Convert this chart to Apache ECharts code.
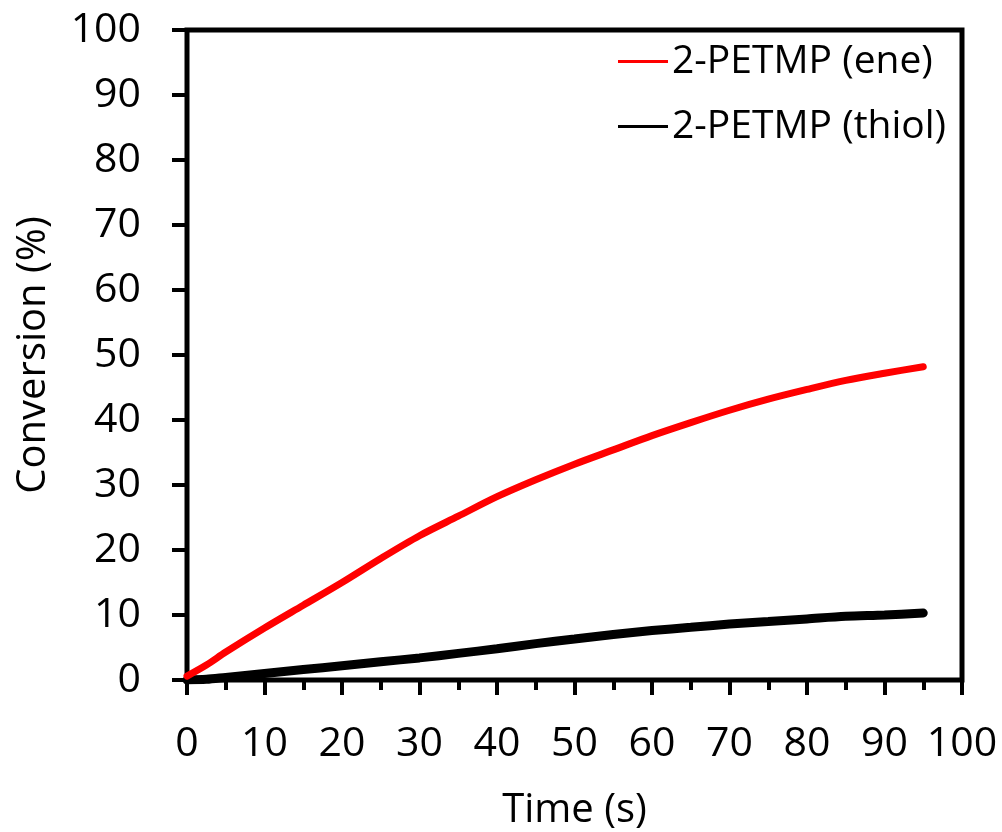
<!DOCTYPE html>
<html>
<head>
<meta charset="utf-8">
<script src="https://cdn.jsdelivr.net/npm/echarts@6/dist/echarts.min.js"></script>
<style>
  html, body { margin: 0; padding: 0; background: #fff; }
  #chart { width: 1002px; height: 832px; }
</style>
</head>
<body>
<div id="chart"></div>
<script>
// Time points (s)
const timeS = [0, 2.5, 5, 10, 15, 20, 25, 30, 35, 40, 45, 50, 55, 60, 65, 70, 75, 80, 85, 90, 95];
// Conversion (%) of the ene groups
const eneConv = [0.6, 2.3, 4.3, 8.0, 11.5, 15.0, 18.7, 22.2, 25.2, 28.2, 30.8, 33.2, 35.4, 37.6, 39.6, 41.5, 43.2, 44.7, 46.1, 47.2, 48.2];
// Conversion (%) of the thiol groups
const thiolConv = [0.0, 0.1, 0.4, 1.0, 1.6, 2.2, 2.8, 3.4, 4.1, 4.8, 5.6, 6.3, 7.0, 7.6, 8.1, 8.6, 9.0, 9.4, 9.8, 10.0, 10.3];
const seriesNames = ['2-PETMP (ene)', '2-PETMP (thiol)'];

const pairs = (xs, ys) => xs.map((x, i) => [x, ys[i]]);

const FONT = '"Open Sans", "Noto Sans", sans-serif';
const chart = echarts.init(document.getElementById('chart'), null, { renderer: 'canvas' });

chart.setOption({
  backgroundColor: '#ffffff',
  animation: false,
  grid: {
    left: 187, right: 40, top: 30, bottom: 152,
    containLabel: false,
    outerBoundsMode: 'none',
    show: true, borderColor: '#000', borderWidth: 5, backgroundColor: 'transparent'
  },
  legend: {
    orient: 'vertical',
    left: 613,
    top: 37,
    itemGap: 26,
    itemWidth: 50,
    itemHeight: 3,
    icon: 'rect',
    textStyle: { fontFamily: FONT, fontSize: 39, color: '#000', padding: [0, 0, 0, -1] },
    data: [
      { name: seriesNames[0], itemStyle: { color: '#ff0000' } },
      { name: seriesNames[1], itemStyle: { color: '#000000' } }
    ]
  },
  xAxis: {
    type: 'value',
    min: 0, max: 100, interval: 10,
    name: 'Time (s)',
    nameLocation: 'middle',
    nameGap: 111,
    nameTextStyle: { fontFamily: FONT, fontSize: 40, color: '#000' },
    axisLine: { show: true, onZero: false, lineStyle: { color: '#000', width: 4 } },
    axisTick: { show: true, inside: false, length: 15, lineStyle: { color: '#000', width: 4 } },
    minorTick: { show: true, splitNumber: 2, length: 10, lineStyle: { color: '#000', width: 4 } },
    axisLabel: { fontFamily: FONT, fontSize: 41, color: '#000', margin: 44 },
    splitLine: { show: false }
  },
  yAxis: {
    type: 'value',
    min: 0, max: 100, interval: 10,
    name: 'Conversion (%)',
    nameLocation: 'middle',
    nameGap: 133,
    nameRotate: 90,
    nameTextStyle: { fontFamily: FONT, fontSize: 40, color: '#000' },
    axisLine: { show: true, onZero: false, lineStyle: { color: '#000', width: 4 } },
    axisTick: { show: true, inside: false, length: 15, lineStyle: { color: '#000', width: 4 } },
    axisLabel: { fontFamily: FONT, fontSize: 41, color: '#000', margin: 46 },
    splitLine: { show: false }
  },
  series: [
    {
      name: seriesNames[1],
      type: 'line',
      data: pairs(timeS, thiolConv),
      showSymbol: false,
      smooth: 0.3,
      lineStyle: { color: '#000000', width: 9, cap: 'round' },
      itemStyle: { color: '#000000' },
      z: 2
    },
    {
      name: seriesNames[0],
      type: 'line',
      data: pairs(timeS, eneConv),
      showSymbol: false,
      smooth: 0.3,
      lineStyle: { color: '#ff0000', width: 7, cap: 'round' },
      itemStyle: { color: '#ff0000' },
      z: 3
    }
  ]
});
</script>
</body>
</html>
